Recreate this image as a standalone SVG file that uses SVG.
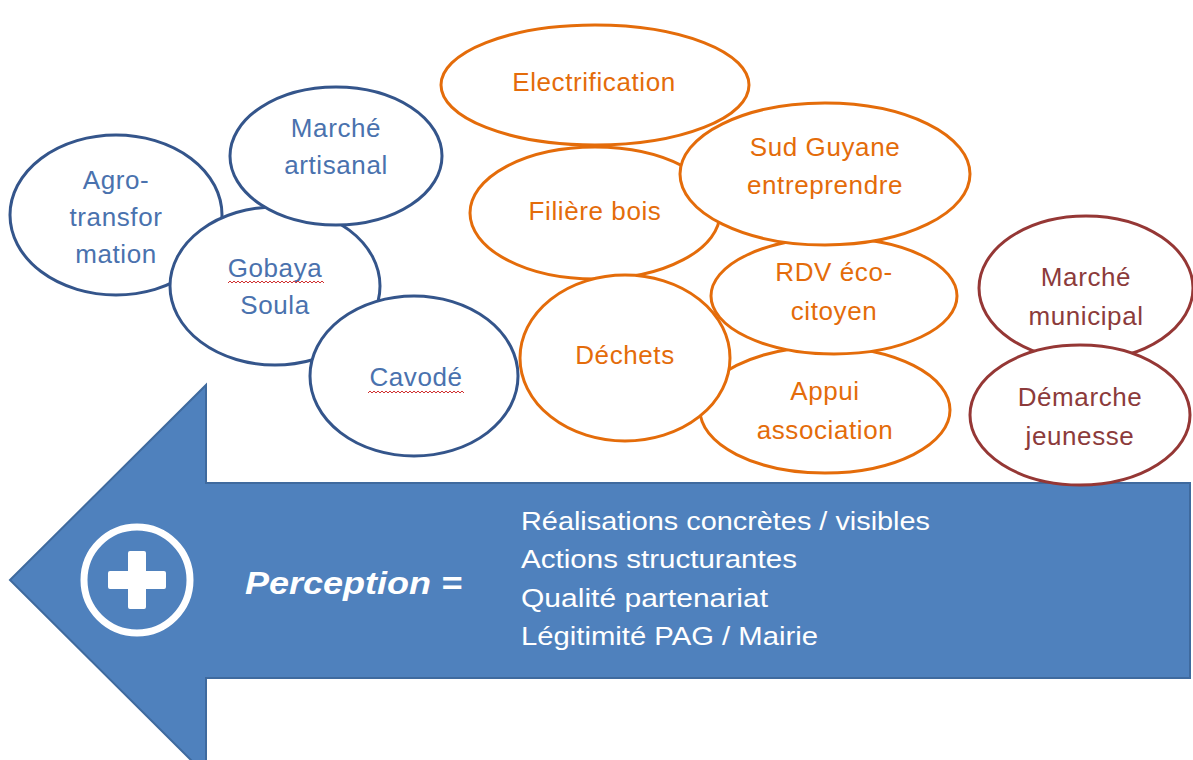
<svg xmlns="http://www.w3.org/2000/svg" width="1193" height="760" viewBox="0 0 1193 760">
<style>
.lbl{font-family:"Liberation Sans",Arial,sans-serif;font-size:26px;letter-spacing:0.6px;text-anchor:middle}
.b ellipse{fill:#fff;stroke:#34558B;stroke-width:3}
.b text{fill:#4A72AE}
.o ellipse{fill:#fff;stroke:#E46C0A;stroke-width:3}
.o text{fill:#E46C0A}
.r ellipse{fill:#fff;stroke:#953735;stroke-width:3}
.r text{fill:#8C3B3B}
.wavy{fill:none;stroke:#D03030;stroke-width:1}
.list{font-family:"Liberation Sans",Arial,sans-serif;font-size:26px;fill:#fff}
</style>
<rect width="1193" height="760" fill="#fff"/>
<g id="arrow">
<path d="M10,580 L206,385 L206,483 L1190,483 L1190,678 L206,678 L206,775 Z" fill="#4F81BD" stroke="#3F6A9E" stroke-width="2"/>
<circle cx="137" cy="580" r="53" fill="none" stroke="#fff" stroke-width="7"/>
<path d="M130,553 h14 v20 h20 v14 h-20 v20 h-14 v-20 h-20 v-14 h20 Z" fill="#fff" stroke="#fff" stroke-width="4" stroke-linejoin="round"/>
<text x="245" y="594" font-family="Liberation Sans,Arial,sans-serif" font-size="32" font-weight="bold" font-style="italic" fill="#fff" textLength="217" lengthAdjust="spacingAndGlyphs">Perception =</text>
<text class="list" x="521" y="530" textLength="409" lengthAdjust="spacingAndGlyphs">Réalisations concrètes / visibles</text>
<text class="list" x="521" y="568" textLength="276" lengthAdjust="spacingAndGlyphs">Actions structurantes</text>
<text class="list" x="521" y="607" textLength="247" lengthAdjust="spacingAndGlyphs">Qualité partenariat</text>
<text class="list" x="521" y="645" textLength="297" lengthAdjust="spacingAndGlyphs">Légitimité PAG / Mairie</text>
</g>
<g class="lbl">
<g id="agro" class="b"><ellipse cx="116" cy="215" rx="106" ry="80"/><text x="116" y="189">Agro-</text><text x="116" y="226">transfor</text><text x="116" y="263">mation</text></g>
<g id="gobaya" class="b"><ellipse cx="275" cy="286" rx="105" ry="79"/><text x="275" y="277">Gobaya</text><text x="275" y="314">Soula</text><path class="wavy" d="M228,283 l2,-2 l2,2 l2,-2 l2,2 l2,-2 l2,2 l2,-2 l2,2 l2,-2 l2,2 l2,-2 l2,2 l2,-2 l2,2 l2,-2 l2,2 l2,-2 l2,2 l2,-2 l2,2 l2,-2 l2,2 l2,-2 l2,2 l2,-2 l2,2 l2,-2 l2,2 l2,-2 l2,2 l2,-2 l2,2 l2,-2 l2,2 l2,-2 l2,2 l2,-2 l2,2 l2,-2 l2,2 l2,-2 l2,2 l2,-2 l2,2 l2,-2 l2,2 l2,-2 l2,2"/></g>
<g id="marche-artisanal" class="b"><ellipse cx="336" cy="156" rx="106" ry="69"/><text x="336" y="137">Marché</text><text x="336" y="174">artisanal</text></g>
<g id="cavode" class="b"><ellipse cx="414" cy="376" rx="104" ry="80"/><text x="416" y="386">Cavodé</text><path class="wavy" d="M368,393 l2,-2 l2,2 l2,-2 l2,2 l2,-2 l2,2 l2,-2 l2,2 l2,-2 l2,2 l2,-2 l2,2 l2,-2 l2,2 l2,-2 l2,2 l2,-2 l2,2 l2,-2 l2,2 l2,-2 l2,2 l2,-2 l2,2 l2,-2 l2,2 l2,-2 l2,2 l2,-2 l2,2 l2,-2 l2,2 l2,-2 l2,2 l2,-2 l2,2 l2,-2 l2,2 l2,-2 l2,2 l2,-2 l2,2 l2,-2 l2,2 l2,-2 l2,2 l2,-2 l2,2"/></g>
<g id="electrification" class="o"><ellipse cx="595" cy="85" rx="154" ry="60"/><text x="594" y="91">Electrification</text></g>
<g id="filiere-bois" class="o"><ellipse cx="595" cy="213" rx="125" ry="66"/><text x="595" y="220">Filière bois</text></g>
<g id="appui" class="o"><ellipse cx="825" cy="410" rx="125" ry="63"/><text x="825" y="400">Appui</text><text x="825" y="439">association</text></g>
<g id="rdv" class="o"><ellipse cx="834" cy="296" rx="123" ry="58"/><text x="834" y="281">RDV éco-</text><text x="834" y="320">citoyen</text></g>
<g id="sud-guyane" class="o"><ellipse cx="825" cy="174" rx="145" ry="71"/><text x="825" y="156">Sud Guyane</text><text x="825" y="194">entreprendre</text></g>
<g id="dechets" class="o"><ellipse cx="625" cy="358" rx="105" ry="83"/><text x="625" y="364">Déchets</text></g>
<g id="marche-municipal" class="r"><ellipse cx="1086" cy="288" rx="107" ry="72"/><text x="1086" y="286">Marché</text><text x="1086" y="325">municipal</text></g>
<g id="demarche-jeunesse" class="r"><ellipse cx="1080" cy="415" rx="110" ry="70"/><text x="1080" y="406">Démarche</text><text x="1080" y="445">jeunesse</text></g>
</g>
</svg>
